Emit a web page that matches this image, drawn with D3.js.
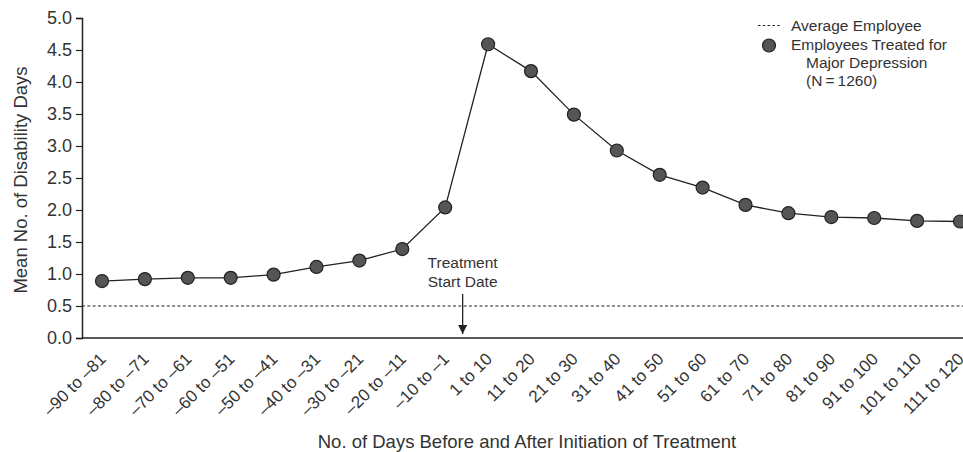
<!DOCTYPE html>
<html>
<head>
<meta charset="utf-8">
<script src="https://cdn.jsdelivr.net/npm/d3@7"></script>
<style>
  body { margin: 0; background: #fff; }
  svg text { font-family: "Liberation Sans", Arial, sans-serif; fill: #333; }
</style>
</head>
<body>
<svg id="chart" width="963" height="452"></svg>
<script>
// day ranges relative to start of treatment
var categories = ["\u201390 to \u201381", "\u201380 to \u201371", "\u201370 to \u201361", "\u201360 to \u201351",
  "\u201350 to \u201341", "\u201340 to \u201331", "\u201330 to \u201321", "\u201320 to \u201311", "\u201310 to \u20131",
  "1 to 10", "11 to 20", "21 to 30", "31 to 40", "41 to 50", "51 to 60", "61 to 70",
  "71 to 80", "81 to 90", "91 to 100", "101 to 110", "111 to 120"];
var treatedDays = [0.89, 0.92, 0.94, 0.94, 0.99, 1.11, 1.21, 1.39, 2.04,
  4.59, 4.17, 3.49, 2.93, 2.55, 2.35, 2.08, 1.95, 1.89, 1.875, 1.83, 1.82];
var averageEmployee = 0.5;
var yTicks = [0, 0.5, 1, 1.5, 2, 2.5, 3, 3.5, 4, 4.5, 5];

var svg = d3.select("#chart");
var plotLeft = 82, plotRight = 963, plotTop = 18, plotBottom = 338;

var x = d3.scalePoint().domain(categories).range([102, 960]);
var y = d3.scaleLinear().domain([0, 5]).range([plotBottom, plotTop]);

// y axis
var yAxis = svg.append("g").attr("transform", "translate(" + plotLeft + ",0)")
  .call(d3.axisLeft(y).tickValues(yTicks).tickFormat(d3.format(".1f")).tickSize(6).tickPadding(4));
yAxis.select(".domain").attr("stroke", "#222").attr("stroke-width", 1.5);
yAxis.selectAll(".tick line").attr("stroke", "#222").attr("stroke-width", 1.2);
yAxis.selectAll(".tick text").style("font-size", "18px").style("font-family", "Liberation Sans, Arial, sans-serif").attr("fill", "#333");

// x axis line
svg.append("line").attr("x1", plotLeft).attr("x2", plotRight).attr("y1", plotBottom).attr("y2", plotBottom)
  .attr("stroke", "#222").attr("stroke-width", 1.5);

// rotated category labels
svg.append("g").selectAll("text").data(categories).enter().append("text")
  .attr("transform", function(d) { return "translate(" + (x(d) + 5) + ",360) rotate(-45)"; })
  .attr("text-anchor", "end")
  .style("font-size", "17px")
  .text(function(d) { return d; });

// average employee reference
svg.append("line").attr("x1", plotLeft).attr("x2", plotRight)
  .attr("y1", y(averageEmployee)).attr("y2", y(averageEmployee))
  .attr("stroke", "#222").attr("stroke-width", 1).attr("stroke-dasharray", "3,2.3");

// series line + points
var line = d3.line().x(function(d, i) { return x(categories[i]); }).y(function(d) { return y(d); });
svg.append("path").datum(treatedDays).attr("d", line)
  .attr("fill", "none").attr("stroke", "#222").attr("stroke-width", 1.3);
svg.append("g").selectAll("circle").data(treatedDays).enter().append("circle")
  .attr("cx", function(d, i) { return x(categories[i]); })
  .attr("cy", function(d) { return y(d); })
  .attr("r", 6.5).attr("fill", "#555").attr("stroke", "#222").attr("stroke-width", 1.2);

// treatment start marker
var startX = (x(categories[8]) + x(categories[9])) / 2 - 4;
svg.append("defs").append("marker").attr("id", "arrow")
  .attr("viewBox", "0 0 10 10").attr("refX", 10).attr("refY", 5)
  .attr("markerWidth", 9).attr("markerHeight", 9).attr("markerUnits", "userSpaceOnUse")
  .attr("orient", "auto")
  .append("path").attr("d", "M0,0L10,5L0,10Z").attr("fill", "#222");
svg.append("line").attr("x1", startX).attr("x2", startX).attr("y1", 294).attr("y2", 334)
  .attr("stroke", "#222").attr("stroke-width", 1.3).attr("marker-end", "url(#arrow)");
svg.append("text").attr("x", startX).attr("y", 268).attr("text-anchor", "middle")
  .style("font-size", "15.5px").text("Treatment");
svg.append("text").attr("x", startX).attr("y", 287).attr("text-anchor", "middle")
  .style("font-size", "15.5px").text("Start Date");

// axis titles
svg.append("text").attr("transform", "translate(27,180) rotate(-90)")
  .attr("text-anchor", "middle").style("font-size", "18.5px").text("Mean No. of Disability Days");
svg.append("text").attr("x", 527).attr("y", 448).attr("text-anchor", "middle")
  .style("font-size", "18.5px").text("No. of Days Before and After Initiation of Treatment");

// legend
var lg = svg.append("g");
lg.append("line").attr("x1", 758).attr("x2", 782).attr("y1", 25.5).attr("y2", 25.5)
  .attr("stroke", "#222").attr("stroke-width", 1).attr("stroke-dasharray", "2.5,2.3");
lg.append("text").attr("x", 791).attr("y", 30.5).style("font-size", "15.5px").text("Average Employee");
lg.append("circle").attr("cx", 769).attr("cy", 45.5).attr("r", 6.5)
  .attr("fill", "#555").attr("stroke", "#222").attr("stroke-width", 1.2);
lg.append("text").attr("x", 791).attr("y", 50).style("font-size", "15.5px").text("Employees Treated for");
lg.append("text").attr("x", 806).attr("y", 68).style("font-size", "15.5px").text("Major Depression");
lg.append("text").attr("x", 806).attr("y", 86).style("font-size", "15.5px").text("(N\u2009=\u20091260)");
</script>
</body>
</html>
